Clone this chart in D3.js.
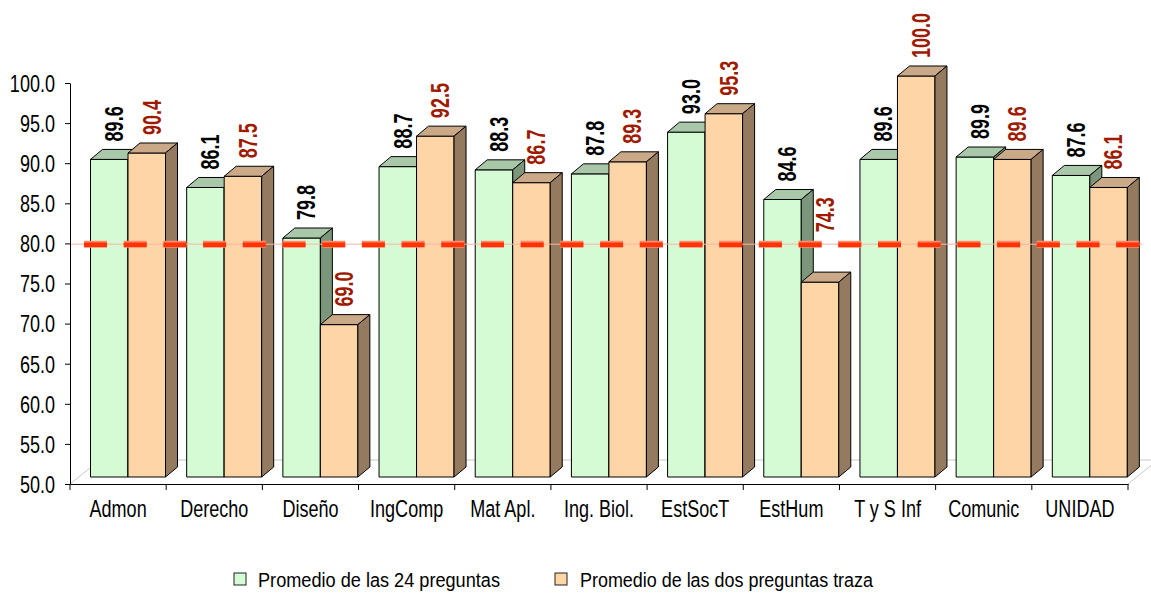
<!DOCTYPE html>
<html><head><meta charset="utf-8">
<script src="https://cdn.jsdelivr.net/npm/d3@7"></script>
<style>
body{margin:0;background:#fff}
svg{display:block}
text{font-family:"Liberation Sans Narrow","Arial Narrow","Liberation Sans",Arial,sans-serif}
</style>
</head><body>
<svg id="c" width="1151" height="594"></svg>
<script>
// ---- data ----
const categories = ["Admon","Derecho","Diseño","IngComp","Mat Apl.","Ing. Biol.","EstSocT","EstHum","T y S Inf","Comunic","UNIDAD"];
const promedio24 = [89.6,86.1,79.8,88.7,88.3,87.8,93.0,84.6,89.6,89.9,87.6];
const preguntasTraza = [90.4,87.5,69.0,92.5,86.7,89.3,95.3,74.3,100.0,89.6,86.1];
const seriesNames = ["Promedio de las 24 preguntas","Promedio de las dos preguntas traza"];
const yTicks = [50,55,60,65,70,75,80,85,90,95,100];
const referenceValue = 79.9;

// ---- layout ----
const L = 70, R = 1128, T = 83, B = 484;
const depthX = 12, depthY = -10;
const lift = 7;
const floorX = 30, floorY = -24;
const barW = 37.5, barOff = 20.5;
const narrow = 0.82;

const svg = d3.select("#c");
const x = d3.scaleBand().domain(categories).range([L, R]).padding(0);
const y = d3.scaleLinear().domain([50, 100]).range([B, T]);
const yr = y(referenceValue);

// floor outline
svg.append("path")
  .attr("d", `M${L},${B}L${L+floorX},${B+floorY}L${R+floorX},${B+floorY}L${R},${B}`)
  .attr("fill", "none").attr("stroke", "#c8c8c8").attr("stroke-width", 1);

const series = [
  {vals: promedio24, front: "#d5fbd5", top: "#a9c8a9", side: "#7b967b", label: "#000000", idx: 0},
  {vals: preguntasTraza, front: "#fed5a7", top: "#c9a987", side: "#947a5f", label: "#9e1a00", idx: 1}
];

const bars = svg.append("g");
categories.forEach((c, i) => {
  series.forEach(s => {
    const v = s.vals[i];
    const x0 = x(c) + barOff + s.idx * barW, x1 = x0 + barW;
    const yt = y(v) - lift, yb = y(50) - lift;
    const g = bars.append("g").attr("stroke", "#000").attr("stroke-width", 1).attr("stroke-linejoin", "round");
    g.append("path").attr("fill", s.front)
      .attr("d", `M${x0},${yb}L${x0},${yt}L${x1},${yt}L${x1},${yb}Z`);
    g.append("path").attr("fill", s.top)
      .attr("d", `M${x0},${yt}L${x0+depthX},${yt+depthY}L${x1+depthX},${yt+depthY}L${x1},${yt}Z`);
    g.append("path").attr("fill", s.side)
      .attr("d", `M${x1},${yt}L${x1+depthX},${yt+depthY}L${x1+depthX},${yb+depthY}L${x1},${yb}Z`);
  });
});

// reference dashed line
svg.append("line").attr("x1", L).attr("x2", 1142).attr("y1", yr).attr("y2", yr)
  .attr("stroke", "#ffb3a3").attr("stroke-width", 1);
svg.append("line").attr("x1", 84).attr("x2", 1140).attr("y1", yr).attr("y2", yr)
  .attr("stroke", "#ff8a70").attr("stroke-width", 7).attr("stroke-dasharray", "23,16.7");
svg.append("line").attr("x1", 84).attr("x2", 1140).attr("y1", yr + 0.5).attr("y2", yr + 0.5)
  .attr("stroke", "#ff3300").attr("stroke-width", 4.5).attr("stroke-dasharray", "23,16.7");

// value labels (moved above the reference line if they would cross it)
categories.forEach((c, i) => {
  series.forEach(s => {
    const v = s.vals[i];
    const cx = x(c) + barOff + s.idx * barW + barW / 2 + 5;
    let ty = y(v) - lift + depthY - 8;
    const len = 36;
    if (ty > yr - 6 && ty - len < yr + 6) ty = yr - 12;
    svg.append("text")
      .attr("transform", `translate(${cx},${ty}) rotate(-90) scale(${narrow},1.2)`)
      .attr("dominant-baseline", "central")
      .attr("font-size", 22).attr("font-weight", "bold")
      .attr("fill", s.label)
      .text(v.toFixed(1));
  });
});

// y axis
const yAxis = d3.axisLeft(y).tickValues(yTicks).tickSize(5).tickSizeOuter(0)
  .tickFormat(d => d.toFixed(1));
const ya = svg.append("g").attr("transform", `translate(${L},0)`).call(yAxis);
ya.select(".domain").attr("stroke", "#000");
ya.selectAll(".tick line").attr("stroke", "#000");
ya.selectAll(".tick text")
  .attr("x", 0).attr("dy", null).attr("dominant-baseline", "central")
  .attr("transform", `translate(-15,0) scale(${narrow},1.05)`)
  .attr("font-size", 22).attr("fill", "#000");

// x axis
const xa = svg.append("g").attr("transform", `translate(0,${B})`)
  .call(d3.axisBottom(x).tickSize(0));
xa.select(".domain").attr("stroke", "#000");
xa.selectAll(".tick text")
  .attr("y", 0).attr("dy", null)
  .attr("transform", `translate(0,33) scale(${narrow},1.05)`)
  .attr("font-size", 22).attr("fill", "#000");
const bounds = categories.map(c => x(c)).concat([R]);
xa.selectAll(".bnd").data(bounds).enter().append("line")
  .attr("x1", d => d).attr("x2", d => d).attr("y1", 0).attr("y2", 6).attr("stroke", "#000");

// legend
const legendItems = [
  {name: seriesNames[0], fill: "#d5fbd5", sx: 234, tx: 258, w: 242},
  {name: seriesNames[1], fill: "#fed5a7", sx: 555, tx: 580, w: 293}
];
legendItems.forEach(li => {
  svg.append("rect").attr("x", li.sx).attr("y", 573).attr("width", 12).attr("height", 12)
    .attr("fill", li.fill).attr("stroke", "#222").attr("stroke-width", 1);
  svg.append("text").attr("x", li.tx).attr("y", 587).attr("font-size", 20)
    .attr("textLength", li.w).attr("lengthAdjust", "spacingAndGlyphs")
    .attr("fill", "#000").text(li.name);
});
</script>
</body></html>
